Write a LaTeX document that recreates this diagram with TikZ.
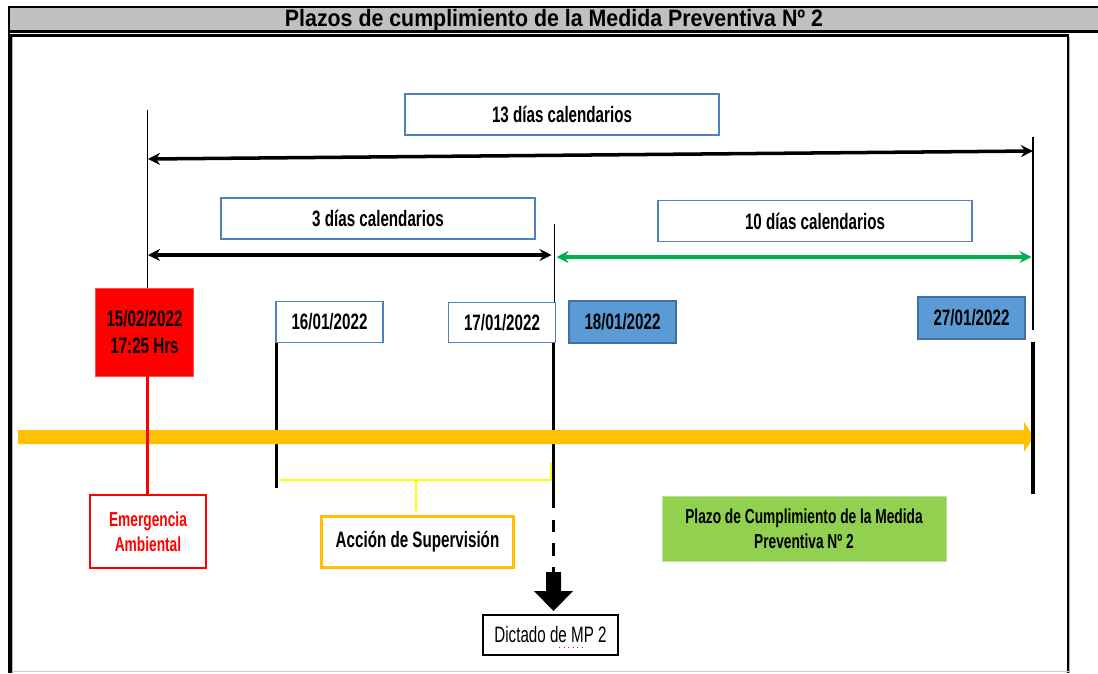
\documentclass[tikz,border=0pt]{standalone}
\usepackage{fontspec}
\setmainfont[FakeStretch=0.68]{Liberation Sans}
\newfontfamily\titlefont[FakeStretch=0.9]{Liberation Sans}
\usetikzlibrary{arrows.meta}
\definecolor{hdrgray}{HTML}{C0C0C0}
\definecolor{bxblue}{HTML}{4F81BD}
\definecolor{fillblue}{HTML}{5B9BD5}
\definecolor{darkblue}{HTML}{41719C}
\definecolor{orng}{HTML}{FFC000}
\definecolor{grn}{HTML}{00B050}
\definecolor{lgrn}{HTML}{92D050}
\definecolor{yel}{HTML}{FFFF00}
\tikzset{
  lbl/.style={font=\fontsize{12.7}{14}\selectfont\bfseries, align=center, inner sep=0pt},
  small/.style={font=\fontsize{11.5}{13}\selectfont\bfseries},
  daybox/.style={lbl, draw=bxblue, line width=0.7pt, fill=white, minimum width=6.28cm, minimum height=0.82cm},
  datebox/.style={lbl, draw=bxblue, line width=0.7pt, fill=white, minimum width=2.14cm, minimum height=0.81cm},
  datefill/.style={lbl, draw=darkblue, line width=0.7pt, fill=fillblue, minimum width=2.14cm, minimum height=0.84cm},
  thin/.style={black, line width=0.6pt},
  thick/.style={black, line width=1.8pt},
  dim/.style={line width=2pt, {Stealth[length=0.24cm,width=0.24cm]}-{Stealth[length=0.24cm,width=0.24cm]}},
}
\begin{document}
\begin{tikzpicture}[x=0.02cm, y=-0.02cm]
\useasboundingbox (0,0) rectangle (1098,673);
% frame
\fill[hdrgray] (9,7) rectangle (1098,31.5);
\draw[black, line width=1.4pt] (1098,7) -- (9,7) -- (9,673);
\draw[black, line width=1.4pt] (9,31.5) -- (1098,31.5);
\draw[black, line width=1.2pt] (11,673) -- (11,35.5) -- (1068,35.5) -- (1068,673);
\draw[gray!60, line width=0.8pt] (12.5,673) -- (12.5,37) ;
\draw[gray!60, line width=0.8pt] (1069.5,37) -- (1069.5,673);
\draw[gray!40, line width=0.8pt] (12,671.5) -- (1069,671.5);
\node[inner sep=0pt, font=\titlefont\fontsize{13.5}{15}\selectfont\bfseries] (title) at (554,20) {Plazos de cumplimiento de la Medida Preventiva Nº 2};

% day boxes
\node[daybox] (d13) at (562,114.5) {13 días calendarios};
\node[daybox] (d3) at (378,218.5) {3 días calendarios};
\node[daybox] (d10) at (815,221) {10 días calendarios};

% date boxes
\node[lbl, fill=red, draw=red!70, line width=0.5pt, minimum width=1.96cm, minimum height=1.76cm] (red) at (144.5,332) {15/02/2022\\[1pt]17:25 Hrs};
\node[datebox] (d16) at (329.5,322) {16/01/2022};
\node[datebox] (d17) at (502,322.5) {17/01/2022};
\node[datefill] (d18) at (622.5,322) {18/01/2022};
\node[datefill] (d27) at (971.5,318) {27/01/2022};

% vertical guide lines
\coordinate (Ltop) at (147.5,110);
\coordinate (Rtop) at (1033,137);
\coordinate (Rmid) at (1033,330);
\coordinate (Rthk) at (1033,342);
\coordinate (Rbot) at (1033,494);
\coordinate (Mtop) at (554.5,224);
\coordinate (Mthk) at (553.5,343);
\coordinate (Mbot) at (553.5,496);
\coordinate (Mdash) at (553.5,574);
\draw[thin] (Ltop) -- (Ltop |- red.north);
\draw[thin] (Rtop) -- (Rmid);
\draw[thin] (Mtop) -- (Mtop |- d17.north);
\draw[thick] (Mthk) -- (Mbot);
\draw[black, line width=1.6pt, dash pattern=on 7pt off 6.5pt] (Mbot) -- (Mdash);
\draw[thick] (d16.south west) ++(1,0) coordinate (S16) -- ++(0,145) coordinate (S16b);

% dimension arrows
\coordinate (A13l) at (148,159);
\coordinate (A13r) at (1033,151);
\draw[dim] (A13l) -- (A13r);
\coordinate (A3l) at (148,255);
\coordinate (A3r) at (551.5,255);
\draw[dim] (A3l) -- (A3r);
\coordinate (A10l) at (556.5,257);
\coordinate (A10r) at (1031.5,257);
\draw[dim, grn] (A10l) -- (A10r);

% orange timeline
\fill[orng] (18,430) -- (1024,430) -- (1024,422) -- (1034,437) -- (1024,452) -- (1024,444) -- (18,444) -- cycle;
\draw[thick] (Rthk) -- (Rbot);

% yellow bracket
\coordinate (Yl) at (279,480);
\coordinate (Yr) at (551,480);
\coordinate (Yru) at (551,463);
\coordinate (Ym) at (416,480);
\coordinate (Ymd) at (416,511);
\draw[yel, line width=1.6pt] (Yl) -- (Yr) -- (Yru);
\draw[yel, line width=1.6pt] (Ym) -- (Ymd);

% bottom boxes
\node[lbl, small, text=red, draw=red, line width=1pt, minimum width=2.32cm, minimum height=1.46cm] (emerg) at (148,531.5) {Emergencia\\[1pt]Ambiental};
\draw[red, line width=1.3pt] (red.south -| Ltop) -- (emerg.north -| Ltop);
\node[lbl, draw=orng, line width=2pt, minimum width=3.84cm, minimum height=1.02cm] (accion) at (417.5,542) {Acción de Supervisión};
\node[lbl, small, fill=lgrn, draw=lgrn!60, line width=0.4pt, minimum width=5.68cm, minimum height=1.3cm] (plazo) at (804,528.5) {Plazo de Cumplimiento de la Medida\\[1pt]Preventiva Nº 2};

% big down arrow
\fill[black] (546,572) -- (561,572) -- (561,591) -- (573,591) -- (553.5,611) -- (534,591) -- (546,591) -- cycle;
\node[font=\fontsize{12.7}{14}\selectfont, draw=black, line width=0.7pt, minimum width=2.7cm, minimum height=0.8cm, inner sep=0pt] (dict) at (550.5,635) {Dictado de MP 2};
\draw[red, line width=0.6pt, dotted] (559,647.5) -- (584,647.5);
\end{tikzpicture}
\end{document}
